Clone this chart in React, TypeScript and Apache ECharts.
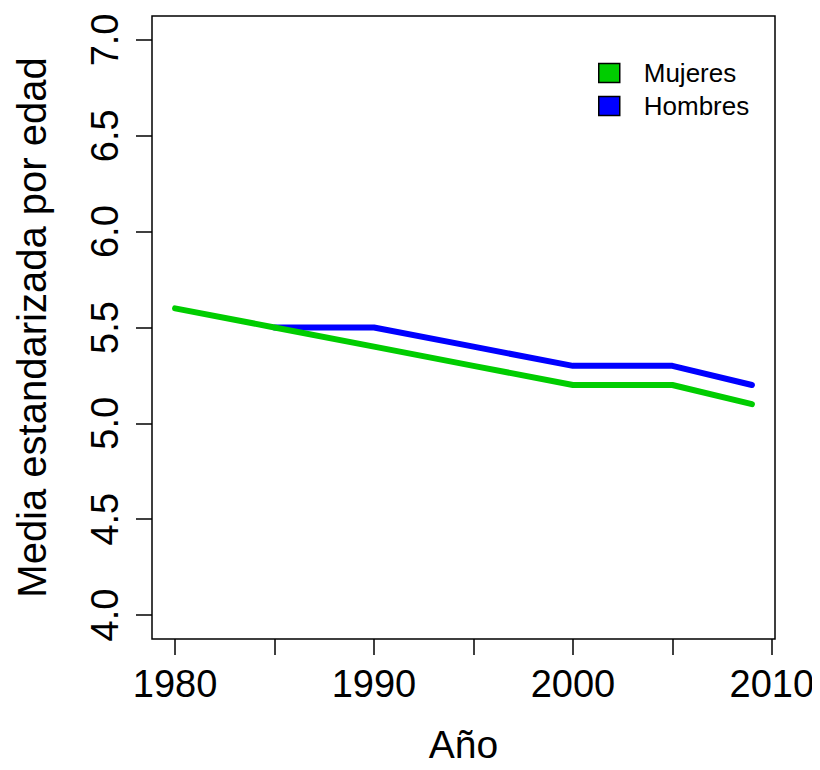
import React, { useEffect, useRef } from "react";
import * as echarts from "echarts";

const years = [1980, 1985, 1990, 1995, 2000, 2005, 2009];
const mujeres = [5.6, 5.5, 5.4, 5.3, 5.2, 5.2, 5.1];
const hombresYears = [1985, 1990, 1995, 2000, 2005, 2009];
const hombres = [5.5, 5.5, 5.4, 5.3, 5.3, 5.2];
const xTicks = [1980, 1985, 1990, 1995, 2000, 2005, 2010];
const xLabels = [1980, 1990, 2000, 2010];
const yTicks = [4.0, 4.5, 5.0, 5.5, 6.0, 6.5, 7.0];

const FONT = "'Liberation Sans', Arial, sans-serif";

export default function App() {
  const ref = useRef<HTMLDivElement>(null);
  useEffect(() => {
    if (!ref.current) return;
    const chart = echarts.init(ref.current, null, { renderer: "svg" });
    chart.setOption({
      animation: false,
      backgroundColor: "#fff",
      textStyle: { fontFamily: FONT },
      grid: {
        left: 152,
        right: 45,
        top: 16,
        bottom: 131,
        outerBoundsMode: "none",
        containLabel: false,
        show: true,
        borderColor: "#000",
        borderWidth: 1.5,
        backgroundColor: "transparent",
      },
      legend: {
        orient: "vertical",
        left: 593,
        top: 55,
        itemWidth: 21,
        itemHeight: 19,
        itemGap: 7,
        icon: "rect",
        textStyle: { fontSize: 26, color: "#000", fontFamily: FONT, padding: [0, 0, 0, 19] },
        data: [
          { name: "Mujeres", icon: "rect", itemStyle: { color: "#00CD00", borderColor: "#000", borderWidth: 1.5 } },
          { name: "Hombres", icon: "rect", itemStyle: { color: "#0000FF", borderColor: "#000", borderWidth: 1.5 } },
        ],
      },
      xAxis: {
        type: "value",
        min: 1978.84,
        max: 2010.16,
        name: "Año",
        nameLocation: "middle",
        nameGap: 86,
        nameTextStyle: { fontSize: 39, color: "#000", fontFamily: FONT },
        splitLine: { show: false },
        axisLine: { show: false },
        axisTick: {
          show: true,
          length: 16,
          customValues: xTicks,
          lineStyle: { color: "#000", width: 1.5 },
        },
        axisLabel: {
          customValues: xLabels,
          margin: 26,
          fontSize: 38,
          color: "#000",
          fontFamily: FONT,
          formatter: (v: number) => String(v),
        },
      },
      yAxis: {
        type: "value",
        min: 3.875,
        max: 7.125,
        name: "Media estandarizada por edad",
        nameLocation: "middle",
        nameGap: 100,
        nameTextStyle: { fontSize: 40, color: "#000", fontFamily: FONT },
        splitLine: { show: false },
        axisLine: { show: false },
        axisTick: {
          show: true,
          length: 16,
          customValues: yTicks,
          lineStyle: { color: "#000", width: 1.5 },
        },
        axisLabel: {
          customValues: yTicks,
          rotate: 90,
          margin: 28,
          fontSize: 38,
          color: "#000",
          fontFamily: FONT,
          formatter: (v: number) => v.toFixed(1),
        },
      },
      series: [
        {
          name: "Hombres",
          type: "line",
          data: hombresYears.map((y, i) => [y, hombres[i]]),
          showSymbol: false,
          symbol: "none",
          color: "#0000FF",
          lineStyle: { width: 6, color: "#0000FF", cap: "round", join: "round" },
        },
        {
          name: "Mujeres",
          type: "line",
          data: years.map((y, i) => [y, mujeres[i]]),
          showSymbol: false,
          symbol: "none",
          color: "#00CD00",
          lineStyle: { width: 6, color: "#00CD00", cap: "round", join: "round" },
        },
      ],
    });
    return () => chart.dispose();
  }, []);
  return <div ref={ref} style={{ width: 820, height: 770, margin: -8 }} />;
}
